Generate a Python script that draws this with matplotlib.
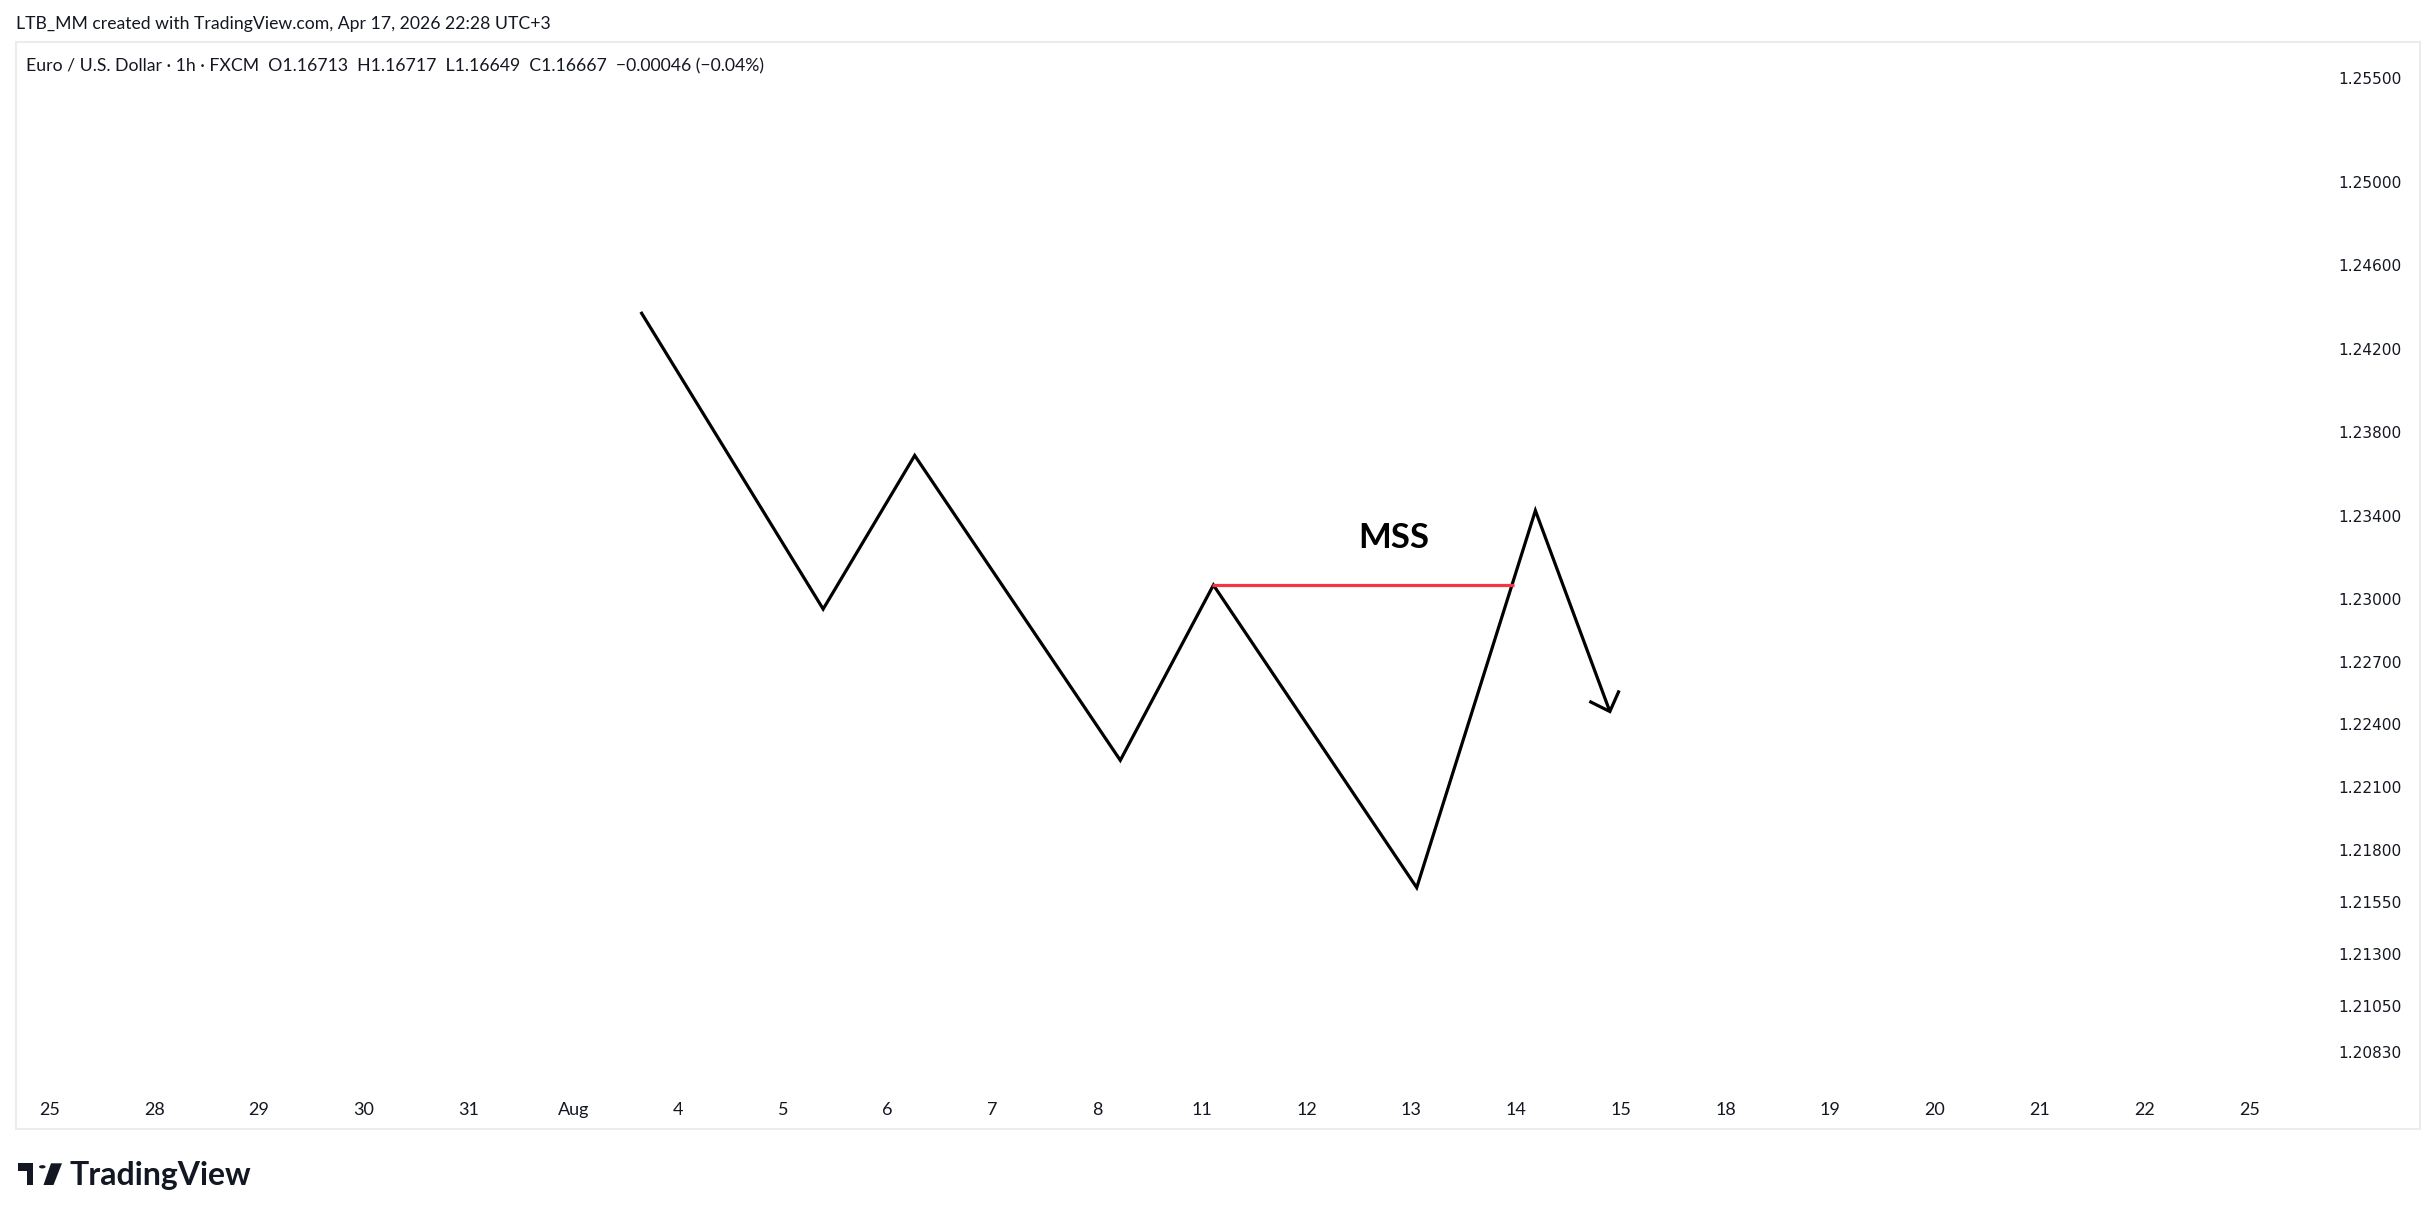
import matplotlib
matplotlib.use("Agg")
import matplotlib.pyplot as plt
from matplotlib.patches import Rectangle, Polygon, Circle
from matplotlib.ticker import FixedLocator

# ---------------- data ----------------
x_labels = ['25', '28', '29', '30', '31', 'Aug', '4', '5', '6', '7', '8', '11',
            '12', '13', '14', '15', '18', '19', '20', '21', '22', '25']
price_ticks = [1.25500, 1.25000, 1.24600, 1.24200, 1.23800, 1.23400, 1.23000,
               1.22700, 1.22400, 1.22100, 1.21800, 1.21550, 1.21300, 1.21050, 1.20830]

# swing drawing (bar index, price)
swing_x = [5.644, 7.385, 8.259, 10.222, 11.111, 13.052, 14.185, 14.896]
swing_y = [1.24377, 1.22953, 1.23689, 1.22228, 1.23068, 1.21618, 1.23425, 1.22462]
arrow_x = [14.70, 14.896, 14.985]
arrow_y = [1.22511, 1.22462, 1.22563]
mss_x = [11.096, 13.985]
mss_level = 1.23068
mss_label = "MSS"
mss_label_pos = (12.83, 1.23292)

header = "LTB_MM created with TradingView.com, Apr 17, 2026 22:28 UTC+3"
legend = ("Euro / U.S. Dollar \u00b7 1h \u00b7 FXCM  O1.16713  H1.16717  L1.16649  "
          "C1.16667  \u22120.00046 (\u22120.04%)")

# ---------------- layout ----------------
W, H = 2433, 1220
DPI = 100
TXT = '#131722'

def fx(px):
    return px / W

def fy(py):
    return 1 - py / H

fig = plt.figure(figsize=(W / DPI, H / DPI), dpi=DPI, facecolor='white')

ax_left, ax_right, ax_top, ax_bot = 16, 2320, 42, 1086
ax = fig.add_axes([fx(ax_left), fy(ax_bot), fx(ax_right) - fx(ax_left), fy(ax_top) - fy(ax_bot)])
ax.set_facecolor('white')
for s in ax.spines.values():
    s.set_visible(False)

ax.set_xlim(-0.3213, 21.676)
ax.set_ylim(1.206673, 1.256705)

# x axis
ax.xaxis.set_major_locator(FixedLocator(list(range(len(x_labels)))))
ax.set_xticklabels(x_labels, fontfamily='Lato', fontsize=13, color=TXT)
ax.tick_params(axis='x', length=0, pad=17)
for t in ax.get_xticklabels():
    t.set_verticalalignment('center')

# y axis on the right
ax.yaxis.tick_right()
ax.yaxis.set_major_locator(FixedLocator(price_ticks))
ax.set_yticklabels([f"{v:.5f}" for v in price_ticks], fontfamily='DejaVu Sans',
                   fontsize=11.1, color=TXT)
ax.tick_params(axis='y', length=0, pad=13.2)

# drawings
ax.plot(swing_x, swing_y, color='black', lw=2.3, solid_joinstyle='miter',
        solid_capstyle='butt')
ax.plot(arrow_x, arrow_y, color='black', lw=2.3, solid_joinstyle='miter',
        solid_capstyle='butt')
ax.plot(mss_x, [mss_level, mss_level], color='#f23645', lw=2.3, solid_capstyle='butt')
ax.text(mss_label_pos[0], mss_label_pos[1], mss_label, ha='center', va='center',
        fontfamily='Lato', fontweight='bold', fontsize=25, color='black')

# pane border
fig.patches.append(Rectangle((fx(15.5), fy(1129)), fx(2420) - fx(15.5), fy(42) - fy(1129),
                             transform=fig.transFigure, fill=False,
                             edgecolor='#ececec', lw=1.5))

# header and legend
fig.text(fx(15.5), fy(23.5), header, ha='left', va='center', fontfamily='Lato',
         fontsize=12.7, color=TXT)
fig.text(fx(26.4), fy(66), legend, ha='left', va='center', fontfamily='Lato',
         fontsize=12.7, color=TXT)

# TradingView logo
logo_T = [(18.3, 1163.3), (33.3, 1163.3), (33.3, 1185), (26.7, 1185),
          (26.7, 1170.7), (18.3, 1170.7)]
logo_slash = [(51, 1163.3), (62, 1163.3), (53.5, 1185), (43.5, 1185)]
fig.patches.append(Polygon([(fx(a), fy(b)) for a, b in logo_T], closed=True,
                           transform=fig.transFigure, facecolor=TXT, edgecolor='none'))
fig.patches.append(Polygon([(fx(a), fy(b)) for a, b in logo_slash], closed=True,
                           transform=fig.transFigure, facecolor=TXT, edgecolor='none'))
fig.patches.append(Circle((fx(42.3), fy(1166.8)), 3.3 / W, transform=fig.transFigure,
                          facecolor=TXT, edgecolor='none'))
fig.text(fx(70), fy(1185), "TradingView", ha='left', va='baseline', fontfamily='Lato',
         fontweight='bold', fontsize=23, color=TXT)

fig.savefig('out.png', dpi=DPI, facecolor='white')
